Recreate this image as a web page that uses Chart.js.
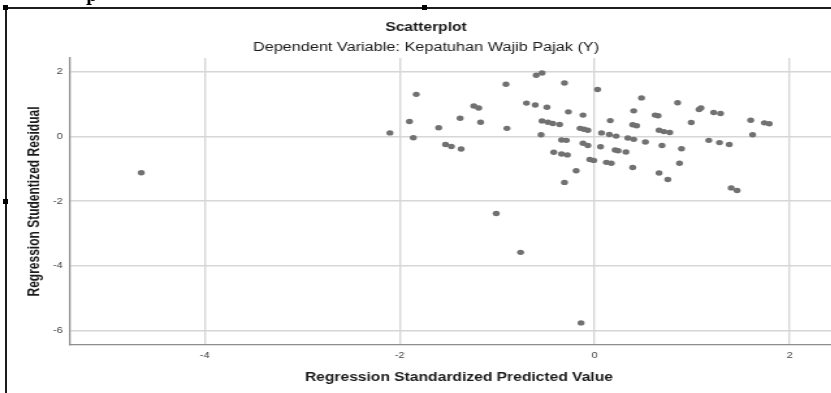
<!DOCTYPE html>
<html>
<head>
<meta charset="utf-8">
<title>Scatterplot</title>
<script src="https://cdn.jsdelivr.net/npm/chart.js@4.4.1/dist/chart.umd.min.js"></script>
<style>
  html, body { margin: 0; padding: 0; background: #fff; overflow: hidden; width: 831px; height: 393px; }
  #wrap { position: relative; width: 831px; height: 393px; overflow: hidden; background: #fff; }
  #plot { position: absolute; left: 0; top: 0; }
  .frame { position: absolute; background: #1c1c1c; }
  .handle { position: absolute; width: 5px; height: 5px; background: #000; }
  .cut { position: absolute; left: 86px; top: -12px; font: bold 16px "DejaVu Serif", serif; color: #000; line-height: 16px; }
</style>
</head>
<body>
<div id="wrap">
  <!-- the source picture is stretched sideways, so the canvas is too (inline style keeps Chart.js from resetting it) -->
  <canvas id="plot" width="655" height="393" style="width:851.5px;height:393px"></canvas>
  <div class="cut">p</div>
  <div class="frame" style="left:4px;top:7px;width:827px;height:2px"></div>
  <div class="frame" style="left:5px;top:7px;width:2px;height:386px"></div>
  <div class="handle" style="left:3px;top:5px"></div>
  <div class="handle" style="left:422px;top:5px"></div>
  <div class="handle" style="left:3px;top:199px"></div>
</div>
<script>
// Regression Standardized Predicted Value
const predicted = [
  -4.65, -2.10, -1.83, -1.90, -1.86, -1.60, -1.53, -1.47, -1.37, -1.38,
  -1.24, -1.19, -1.17, -0.91, -0.90, -0.60, -0.54, -0.31, 0.03, -0.70,
  -0.61, -0.49, -0.27, -0.12, 0.40, -0.54, -0.48, -0.43, -0.36, -0.55,
  -0.15, -0.11, -0.07, 0.16, 0.39, 0.43, 0.07, 0.15, 0.22, 0.34,
  0.40, -0.34, -0.29, -0.12, -0.07, 0.06, 0.21, 0.24, 0.32, -0.42,
  -0.34, -0.28, -0.05, -0.01, 0.12, 0.17, 0.39, -0.19, -0.31, -1.01,
  -0.76, -0.14, 0.48, 0.85, 1.07, 1.09, 1.22, 1.29, 0.62, 0.65,
  0.99, 0.66, 0.71, 0.77, 0.52, 1.17, 1.28, 1.38, 0.69, 0.89,
  0.87, 0.66, 0.75, 1.40, 1.46, 1.60, 1.62, 1.74, 1.79
];

// Regression Studentized Residual
const residual = [
  -1.12, 0.11, 1.30, 0.46, -0.04, 0.27, -0.25, -0.31, -0.39, 0.56,
  0.94, 0.88, 0.44, 1.61, 0.25, 1.89, 1.96, 1.65, 1.45, 1.03,
  0.97, 0.90, 0.76, 0.66, 0.79, 0.48, 0.44, 0.40, 0.37, 0.05,
  0.25, 0.22, 0.19, 0.49, 0.36, 0.33, 0.11, 0.06, 0.01, -0.05,
  -0.09, -0.11, -0.12, -0.21, -0.28, -0.32, -0.42, -0.44, -0.48, -0.49,
  -0.54, -0.57, -0.71, -0.74, -0.80, -0.83, -0.96, -1.06, -1.42, -2.38,
  -3.58, -5.76, 1.19, 1.04, 0.83, 0.88, 0.74, 0.71, 0.66, 0.64,
  0.43, 0.19, 0.15, 0.12, -0.17, -0.12, -0.19, -0.25, -0.28, -0.38,
  -0.83, -1.13, -1.33, -1.59, -1.67, 0.50, 0.05, 0.42, 0.39
];

const xRange = [-5.388, 2.603];
const yRange = [-6.442, 2.423];
const tickStep = 2;

const chartTitle = "Scatterplot";
const chartSubtitle = "Dependent Variable: Kepatuhan Wajib Pajak (Y)";
const xAxisTitle = "Regression Standardized Predicted Value";
const yAxisTitle = "Regression Studentized Residual";

const FONT = '"Liberation Sans", Arial, sans-serif';

const points = predicted.map((x, i) => ({ x: x, y: residual[i] }));

new Chart(document.getElementById("plot"), {
  type: "scatter",
  data: {
    datasets: [{
      data: points,
      backgroundColor: "#717171",
      borderWidth: 0,
      pointRadius: 2.7,
      pointHoverRadius: 2.7
    }]
  },
  options: {
    responsive: false,
    animation: false,
    devicePixelRatio: 1,
    events: [],
    layout: { padding: 0 },
    plugins: {
      legend: { display: false },
      tooltip: { enabled: false },
      title: {
        display: true,
        text: chartTitle,
        color: "#1a1a1a",
        font: { family: FONT, size: 12, weight: "bold", lineHeight: 1.2 },
        padding: { top: 20.5, bottom: 0 }
      },
      subtitle: {
        display: true,
        text: chartSubtitle,
        color: "#1a1a1a",
        font: { family: FONT, size: 12.5, weight: "normal", lineHeight: 1.2 },
        padding: { top: 5.3, bottom: 2.8 }
      }
    },
    scales: {
      x: {
        type: "linear",
        min: xRange[0],
        max: xRange[1],
        ticks: {
          stepSize: tickStep,
          includeBounds: false,
          padding: 6,
          color: "#444",
          font: { family: FONT, size: 8.5 }
        },
        grid: { color: "#d6d6d6", lineWidth: 1.4, drawTicks: false },
        border: { color: "#8c8c8c", width: 1.3 },
        title: {
          display: true,
          text: xAxisTitle,
          color: "#1a1a1a",
          font: { family: FONT, size: 12, weight: "bold", lineHeight: 1.2 },
          padding: { top: 0, bottom: 7.8 }
        },
        afterFit: function(scale) {
          scale.height = 48;
          scale.paddingLeft = 0;
          scale.paddingRight = 0;
        }
      },
      y: {
        type: "linear",
        min: yRange[0],
        max: yRange[1],
        ticks: {
          stepSize: tickStep,
          includeBounds: false,
          padding: 5,
          color: "#444",
          font: { family: FONT, size: 8.5 }
        },
        grid: { color: "#d6d6d6", lineWidth: 1.4, drawTicks: false },
        border: { color: "#8c8c8c", width: 1.3 },
        title: {
          display: true,
          text: yAxisTitle,
          color: "#1a1a1a",
          font: { family: FONT, size: 12, weight: "bold", lineHeight: 1.2 },
          padding: { top: 19.7, bottom: 0 }
        },
        afterFit: function(scale) {
          scale.width = 53.3;
        }
      }
    }
  }
});
</script>
</body>
</html>
